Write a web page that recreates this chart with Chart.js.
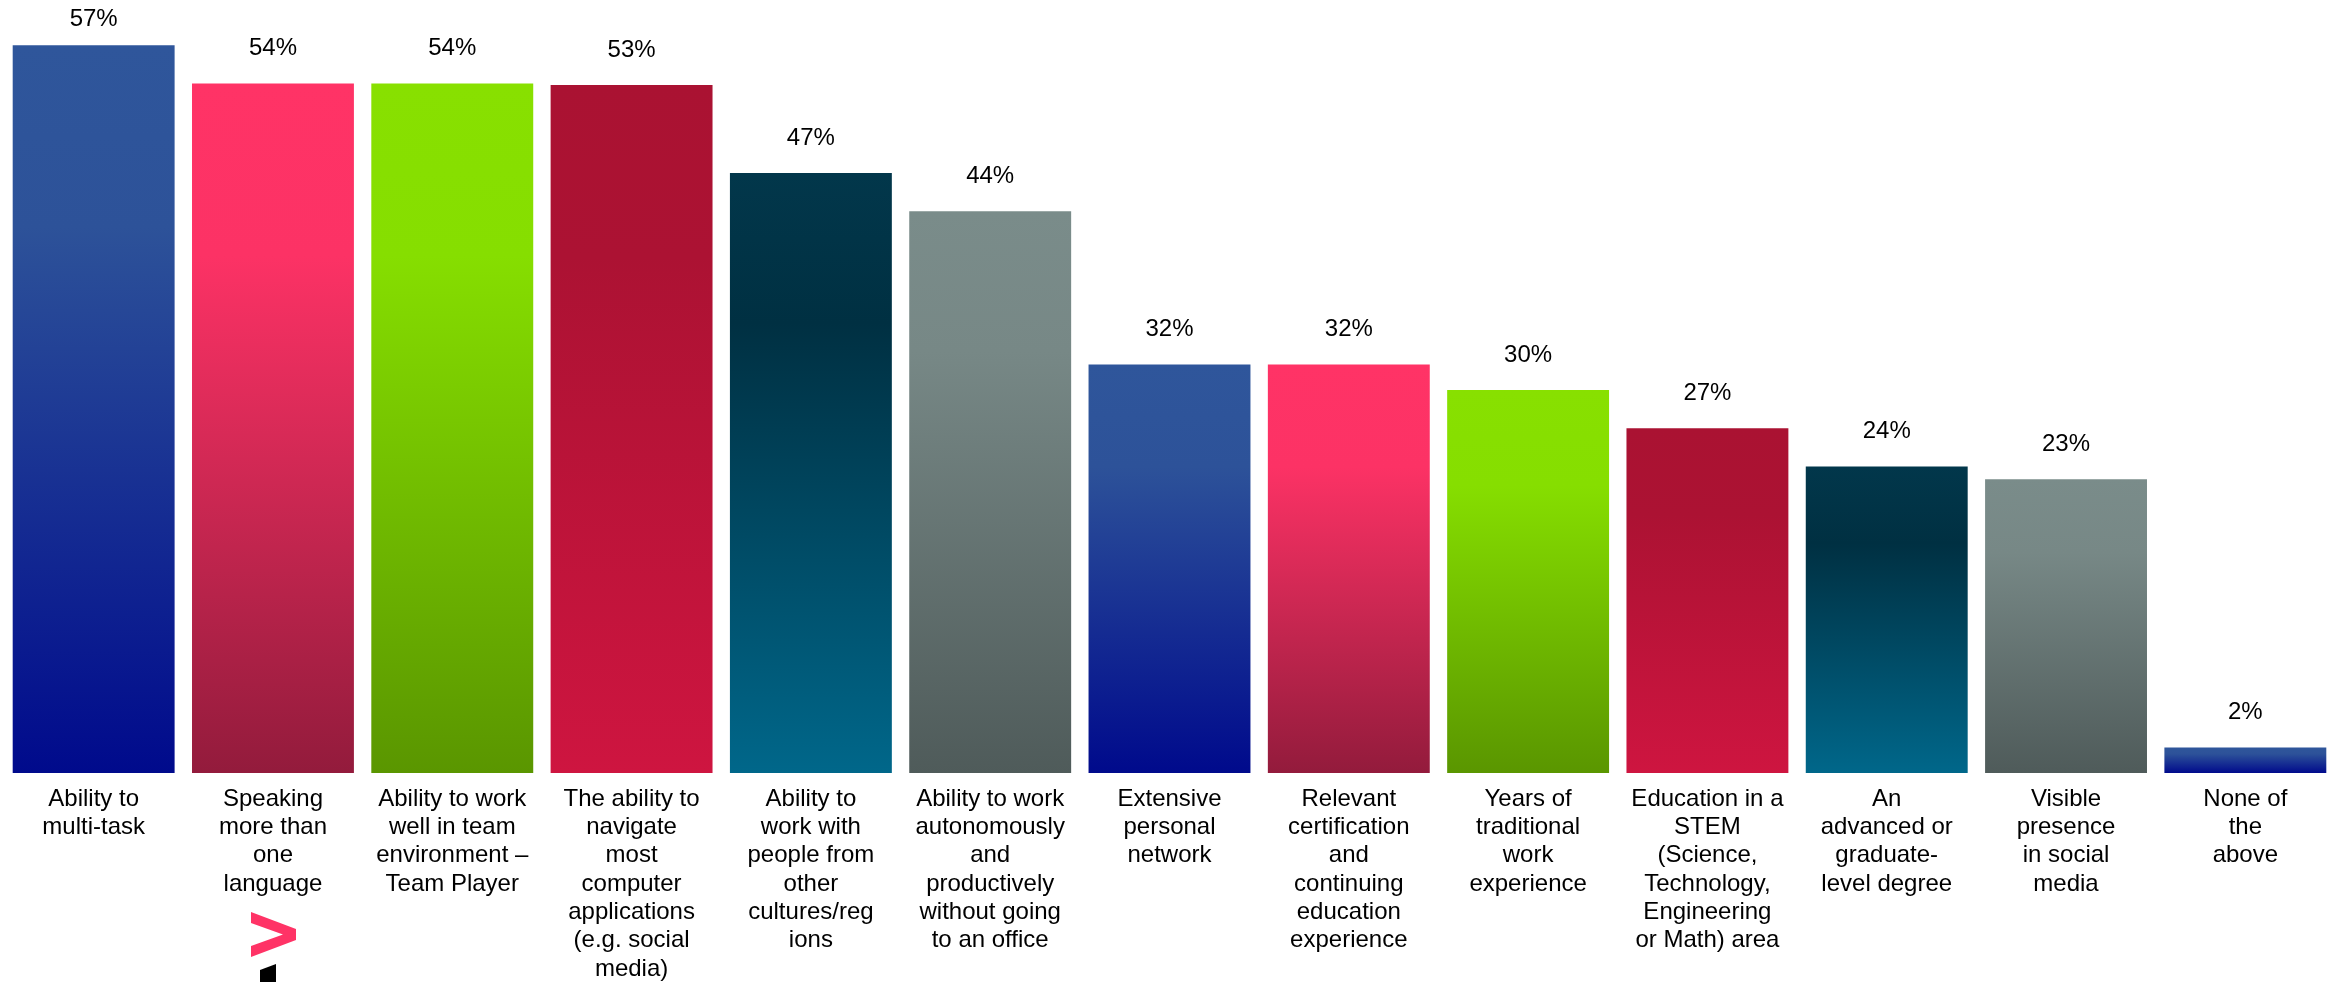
<!DOCTYPE html>
<html>
<head>
<meta charset="utf-8">
<script src="https://cdn.jsdelivr.net/npm/chart.js@4"></script>
<style>
  html, body { margin: 0; padding: 0; background: #fff; }
  #wrap { width: 2338px; height: 982px; position: relative; }
</style>
</head>
<body>
<div id="wrap"><canvas id="grafico"></canvas></div>
<script>
// categorias (quebradas em linhas como no original)
const categorias = [
  ['Ability to', 'multi-task'],
  ['Speaking', 'more than', 'one', 'language'],
  ['Ability to work', 'well in team', 'environment –', 'Team Player'],
  ['The ability to', 'navigate', 'most', 'computer', 'applications', '(e.g. social', 'media)'],
  ['Ability to', 'work with', 'people from', 'other', 'cultures/reg', 'ions'],
  ['Ability to work', 'autonomously', 'and', 'productively', 'without going', 'to an office'],
  ['Extensive', 'personal', 'network'],
  ['Relevant', 'certification', 'and', 'continuing', 'education', 'experience'],
  ['Years of', 'traditional', 'work', 'experience'],
  ['Education in a', 'STEM', '(Science,', 'Technology,', 'Engineering', 'or Math) area'],
  ['An', 'advanced or', 'graduate-', 'level degree'],
  ['Visible', 'presence', 'in social', 'media'],
  ['None of', 'the', 'above']
];

// altura das barras e o texto impresso acima delas
const valores = [57, 54, 54, 53.9, 47, 44, 32, 32, 30, 27, 24, 23, 2];
const textos  = ['57%', '54%', '54%', '53%', '47%', '44%', '32%', '32%', '30%', '27%', '24%', '23%', '2%'];

// degradês: cor de cima, cor "meio", cor de baixo (repetem a cada 6 barras)
const corTopo  = ['#2F569B', '#FF3366', '#88E000', '#AA1232', '#02374B', '#7A8C8A'];
const corMeio  = ['#2D5299', '#FC3265', '#86DE00', '#AC1233', '#003042', '#778886'];
const corBase  = ['#000A8C', '#931B3C', '#5A9600', '#CE1540', '#00678A', '#4F5B5A'];

function degrade(ctx) {
  const chart = ctx.chart;
  const i = ctx.dataIndex % corTopo.length;
  if (!chart.chartArea || ctx.type !== 'data') return corTopo[i];
  const y = chart.scales.y;
  const topo = y.getPixelForValue(ctx.raw);
  const base = y.getPixelForValue(0);
  const g = chart.ctx.createLinearGradient(0, topo, 0, base);
  g.addColorStop(0, corTopo[i]);
  g.addColorStop(0.25, corMeio[i]);
  g.addColorStop(1, corBase[i]);
  return g;
}

// rótulos de porcentagem acima das barras
const rotulos = {
  id: 'rotulos',
  afterDatasetsDraw(chart) {
    const c = chart.ctx;
    const meta = chart.getDatasetMeta(0);
    c.save();
    c.font = '24px "Liberation Sans", Arial, sans-serif';
    c.fillStyle = '#000';
    c.textAlign = 'center';
    c.textBaseline = 'middle';
    meta.data.forEach((bar, i) => {
      const y = Math.max(bar.y - 35, 19);
      c.fillText(textos[i], bar.x, y);
    });
    c.restore();
  }
};

// pedaço do logo no canto inferior esquerdo
const logo = {
  id: 'logo',
  afterDraw(chart) {
    const c = chart.ctx;
    c.save();
    c.fillStyle = '#FF3366';
    c.beginPath();
    c.moveTo(251, 912); c.lineTo(296, 929); c.lineTo(296, 940); c.lineTo(251, 957);
    c.lineTo(251, 946); c.lineTo(283, 934.5); c.lineTo(251, 923);
    c.closePath();
    c.fill();
    c.fillStyle = '#000';
    c.beginPath();
    c.moveTo(260, 970); c.lineTo(276, 964); c.lineTo(276, 982); c.lineTo(260, 982);
    c.closePath();
    c.fill();
    c.restore();
  }
};

const ctx = document.getElementById('grafico').getContext('2d');
new Chart(ctx, {
  type: 'bar',
  data: {
    labels: categorias,
    datasets: [{
      data: valores,
      backgroundColor: degrade,
      borderWidth: 0,
      categoryPercentage: 1,
      barPercentage: 0.903
    }]
  },
  options: {
    responsive: true,
    maintainAspectRatio: false,
    animation: false,
    layout: { padding: { left: 4, right: 3, top: 7, bottom: 0 } },
    plugins: {
      legend: { display: false },
      tooltip: { enabled: false }
    },
    scales: {
      x: {
        grid: { display: false, drawTicks: false },
        border: { display: false },
        afterFit: s => { s.height = 209; },
        ticks: {
          color: '#000',
          autoSkip: false,
          maxRotation: 0,
          minRotation: 0,
          padding: 12,
          font: { family: '"Liberation Sans", Arial, sans-serif', size: 24, lineHeight: 1.18 }
        }
      },
      y: {
        display: false,
        min: 0,
        max: 60
      }
    }
  },
  plugins: [rotulos, logo]
});
</script>
</body>
</html>
